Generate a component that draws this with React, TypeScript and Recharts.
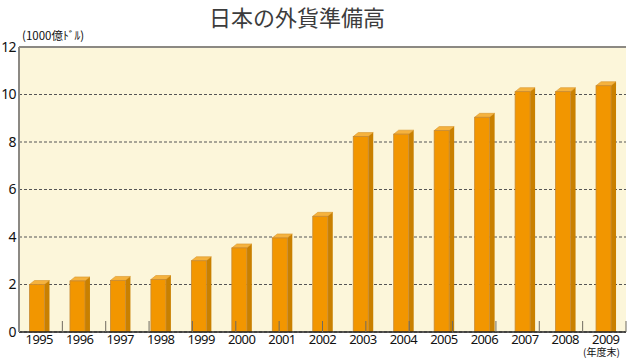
import React from "react";
import {
  BarChart,
  Bar,
  XAxis,
  YAxis,
  CartesianGrid,
  ReferenceLine,
} from "recharts";

const YEARS = ["1995", "1996", "1997", "1998", "1999", "2000", "2001", "2002", "2003", "2004", "2005", "2006", "2007", "2008", "2009"];
const RESERVES = [2.0, 2.15, 2.17, 2.21, 3.0, 3.54, 3.96, 4.87, 8.23, 8.33, 8.48, 9.04, 10.12, 10.12, 10.37];
const Y_TICKS = [0, 2, 4, 6, 8, 10, 12];
const SEPARATORS = [1, 2, 3, 4, 5, 6, 7, 8, 9, 10, 11, 12, 13, 14];

const data = YEARS.map((year, i) => ({ year, value: RESERVES[i] }));

const FRONT = "#f29600";
const SIDE = "#c98000";
const TOP = "#f5b23e";
const DEPTH_X = 5;
const DEPTH_Y = 4;

function Bar3D(props: any) {
  const { x, y, width, height } = props;
  if (height == null || height <= 0) return null;
  const fx = x - 2.5;
  return (
    <g>
      <polygon
        points={`${fx},${y} ${fx + DEPTH_X},${y - DEPTH_Y} ${fx + width + DEPTH_X},${y - DEPTH_Y} ${fx + width},${y}`}
        fill={TOP}
        stroke="#d9962c"
        strokeWidth={0.6}
      />
      <polygon
        points={`${fx + width},${y} ${fx + width + DEPTH_X},${y - DEPTH_Y} ${fx + width + DEPTH_X},${y + height} ${fx + width},${y + height}`}
        fill={SIDE}
      />
      <rect x={fx} y={y} width={width} height={height} fill={FRONT} stroke="#c68a35" strokeWidth={0.8} />
    </g>
  );
}

const tickFont = { fontFamily: "'Noto Sans', sans-serif", fill: "#111", letterSpacing: -0.6 };
const jp = "'Noto Sans CJK JP', sans-serif";

export default function App() {
  return (
    <div style={{ position: "absolute", left: 0, top: 0, width: 627, height: 359, background: "#fff" }}>
      <BarChart
        width={627}
        height={359}
        data={data}
        margin={{ top: 47, right: 1, bottom: 0, left: 0 }}
        barSize={15}
      >
        <CartesianGrid vertical={false} stroke="#555" strokeDasharray="3 2" fill="#fcf6da" />
        <XAxis
          dataKey="year"
          height={27}
          axisLine={{ stroke: "#222", strokeWidth: 1.5 }}
          tickLine={false}
          tickSize={0}
          tickMargin={3}
          interval={0}
          tick={{ ...tickFont, fontSize: 13 }}
        />
        <XAxis
          xAxisId="sep"
          type="number"
          domain={[0, 15]}
          ticks={SEPARATORS}
          interval={0}
          allowDataOverflow
          mirror
          axisLine={false}
          tick={() => <g />}
          tickSize={11}
          tickLine={{ stroke: "#6f6a60", strokeWidth: 1 }}
        />
        <YAxis
          domain={[0, 12]}
          ticks={Y_TICKS}
          width={19}
          axisLine={{ stroke: "#8c8983", strokeWidth: 2 }}
          tickLine={false}
          tickSize={0}
          tickMargin={3}
          tick={{ ...tickFont, fontSize: 14 }}
        />
        <YAxis
          yAxisId="right"
          orientation="right"
          domain={[0, 12]}
          width={0}
          tick={false}
          tickLine={false}
          axisLine={{ stroke: "#333", strokeWidth: 1.5 }}
        />
        <ReferenceLine y={12} stroke="#8c8983" strokeWidth={2} />
        <Bar dataKey="value" shape={<Bar3D />} isAnimationActive={false} />
      </BarChart>
      <div
        style={{
          position: "absolute",
          zIndex: 2,
          left: 0,
          width: 594,
          top: 0,
          textAlign: "center",
          fontFamily: jp,
          fontSize: 22,
          lineHeight: "32px",
          color: "#3c3c3c",
        }}
      >
        日本の外貨準備高
      </div>
      <div
        style={{
          position: "absolute",
          zIndex: 2,
          left: 22,
          top: 27,
          fontFamily: jp,
          fontSize: 11.5,
          lineHeight: "16px",
          color: "#111",
        }}
      >
        (1000億ﾄﾞﾙ)
      </div>
      <div
        style={{
          position: "absolute",
          zIndex: 2,
          left: 583,
          top: 345,
          fontFamily: jp,
          fontSize: 10,
          lineHeight: "14px",
          color: "#111",
        }}
      >
        (年度末)
      </div>
    </div>
  );
}
